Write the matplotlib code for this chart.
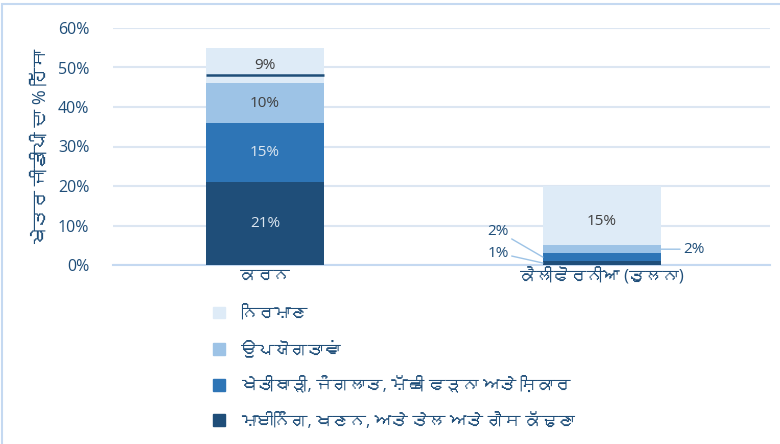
import matplotlib
matplotlib.use("Agg")
import matplotlib.pyplot as plt
from matplotlib import font_manager
from matplotlib.ft2font import FT2Font
from matplotlib.patches import Patch

# ---- data ----
categories = ["ਕਰਨ", "ਕੈਲੀਫੋਰਨੀਆ (ਤੁਲਨਾ)"]
series_names = [
    "ਮਾਈਨਿੰਗ, ਖਣਨ, ਅਤੇ ਤੇਲ ਅਤੇ ਗੈਸ ਕੱਢਣਾ",
    "ਖੇਤੀਬਾੜੀ, ਜੰਗਲਾਤ, ਮੱਛੀ ਫੜਨਾ ਅਤੇ ਸ਼ਿਕਾਰ",
    "ਉਪਯੋਗਤਾਵਾਂ",
    "ਨਿਰਮਾਣ",
]
mining = [21, 1]
agriculture = [15, 2]
utilities = [10, 2]
manufacturing = [9, 15]
karan_line = 48
yticks = [0, 10, 20, 30, 40, 50, 60]
ylabel = "ਖੇਤਰ ਜੀਡੀਪੀ ਦਾ % ਹਿੱਸਾ"

colors = ["#1f4e79", "#2e75b6", "#9dc3e6", "#deebf7"]
text_blue = "#1f4e79"

# ---- font with Gurmukhi support if present (used as fallback) ----
gur = None
for f in font_manager.fontManager.ttflist:
    try:
        if 0x0A28 in FT2Font(f.fname).get_charmap():
            gur = f.name
            break
    except Exception:
        pass
fams = ["Open Sans"] + ([gur] if gur else []) + ["DejaVu Sans"]
plt.rcParams["font.family"] = fams

fig = plt.figure(figsize=(7.8, 4.44), dpi=100)
ax = fig.add_axes([113/780, 1-265/444, (770-113)/780, (265-28)/444])

x = [0, 1]
width = 0.35
vals = [mining, agriculture, utilities, manufacturing]
bottoms = [0, 0]
bars = []
for v, c in zip(vals, colors):
    b = ax.bar(x, v, width, bottom=bottoms, color=c, zorder=3)
    bars.append((b, list(bottoms), v))
    bottoms = [bb + vv for bb, vv in zip(bottoms, v)]

# Karan labels (inside)
label_colors = ["#dce6f0", "#dce6f0", "#404040", "#404040"]
for (b, bot, v), lc in zip(bars, label_colors):
    ax.text(0, bot[0] + v[0]/2, f"{v[0]}%", ha="center", va="center",
            color=lc, fontsize=11, zorder=5)
# Karan line
ax.hlines(karan_line, -width/2, width/2, color=text_blue, lw=1.8, zorder=4)

# California labels
ax.text(1, bottoms[1]/2 + 1, f"{manufacturing[1]}%", ha="center", va="center",
        color="#404040", fontsize=11, zorder=5)
lead = dict(arrowstyle="-", color="#9dc3e6", lw=1, shrinkA=0, shrinkB=0)
ax.annotate(f"{mining[1]}%", xy=(1 - width/2, mining[1]/2),
            xytext=(-34, 10), textcoords="offset pixels", ha="right", va="center",
            color=text_blue, fontsize=11, arrowprops=lead, zorder=5)
ax.annotate(f"{agriculture[1]}%", xy=(1 - width/2, mining[1] + agriculture[1]/2),
            xytext=(-34, 26), textcoords="offset pixels", ha="right", va="center",
            color=text_blue, fontsize=11, arrowprops=lead, zorder=5)
ax.annotate(f"{utilities[1]}%", xy=(1 + width/2, mining[1] + agriculture[1] + utilities[1]/2),
            xytext=(22, 0), textcoords="offset pixels", ha="left", va="center",
            color=text_blue, fontsize=11, arrowprops=lead, zorder=5)

ax.set_xlim(-0.451, 1.499)
ax.set_ylim(0, 60)
ax.set_yticks(yticks)
ax.set_yticklabels([f"{t}%" for t in yticks], color=text_blue, fontsize=11.5)
ax.set_xticks(x)
ax.set_xticklabels(categories, color=text_blue, fontsize=12)
ax.tick_params(length=0, pad=2)
ax.tick_params(axis="y", pad=17)
ax.grid(axis="y", color="#dce6f2", lw=1.5, zorder=0)
for s in ["top", "right", "left"]:
    ax.spines[s].set_visible(False)
ax.spines["bottom"].set_color("#c5d9f1")
ax.spines["bottom"].set_linewidth(1.5)
ax.set_ylabel(ylabel, color=text_blue, fontsize=13, labelpad=6)

handles = [Patch(color=c) for c in colors[::-1]]
fig.legend(handles, series_names[::-1], loc="upper left",
           bbox_to_anchor=(198/780, 1-291/444), frameon=False,
           fontsize=12, labelcolor=text_blue, handlelength=0.7, handleheight=0.7,
           labelspacing=1.1, handletextpad=1.0)

# chart border
fig.add_artist(plt.Rectangle((2/780, -0.01), 1.0, 1 - 4/444 + 0.01, transform=fig.transFigure,
                             fill=False, ec="#c5d9f1", lw=1.5))

fig.savefig("out.png", dpi=100)
